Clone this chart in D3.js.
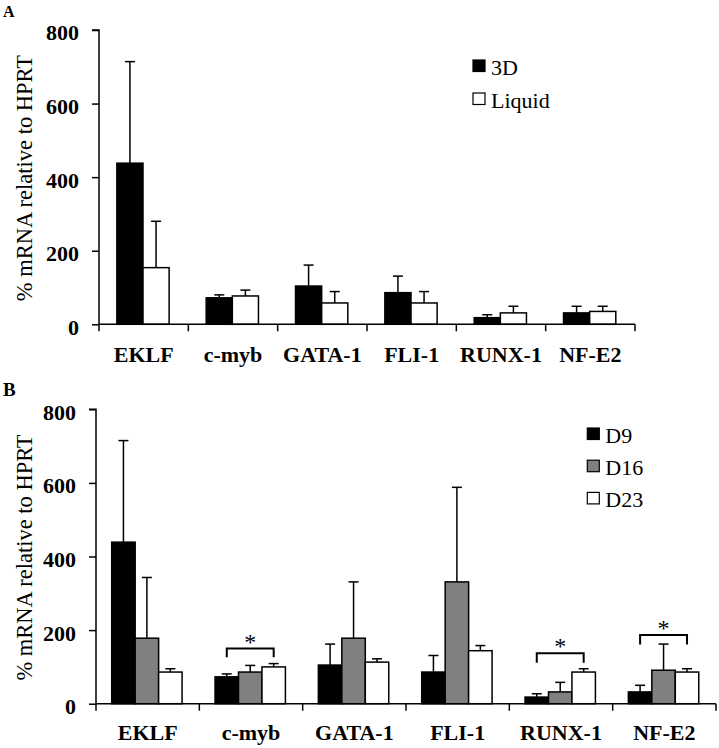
<!DOCTYPE html>
<html><head><meta charset="utf-8">
<script src="https://cdn.jsdelivr.net/npm/d3@7"></script>
<style>body{margin:0;background:#fff}svg{display:block}</style>
</head><body>
<svg id="c" width="719" height="748"></svg>
<script>
const categories = ["EKLF","c-myb","GATA-1","FLI-1","RUNX-1","NF-E2"];
const yTicks = [0,200,400,600,800];

// Panel A
const seriesA = ["3D","Liquid"];
const meanA3D    = [438, 72, 104, 86, 18, 31];
const errA3D     = [714, 80, 161, 131, 26, 49];
const meanALiq   = [154, 77, 58, 58, 31, 35];
const errALiq    = [280, 93, 89, 89, 49, 49];

// Panel B
const seriesB = ["D9","D16","D23"];
const meanBD9  = [439, 73, 105, 86, 18, 32];
const errBD9   = [715, 81, 162, 131, 27, 50];
const meanBD16 = [178, 86, 178, 331, 32, 91];
const errBD16  = [343, 104, 331, 588, 58, 162];
const meanBD23 = [86, 100, 113, 144, 86, 86];
const errBD23  = [95, 109, 122, 158, 95, 95];

// significance brackets in panel B (category, leg bottom value, bracket top value)
const sigCats   = ["c-myb","RUNX-1","NF-E2"];
const sigBottom = [126, 111, 161];
const sigTop    = [150, 137, 187];

const svg = d3.select("#c");
const serif = "Liberation Serif, Times New Roman, serif";

function panel(cfg){
  const g = svg.append("g");
  const x = d3.scaleBand().domain(categories).range([cfg.x0, cfg.x1]);
  const y = d3.scaleLinear().domain([0,800]).range([cfg.yb, cfg.yt]);
  const bw = x.bandwidth();
  const xs = d3.scaleBand().domain(cfg.series).range([bw*cfg.g0, bw*cfg.g1]);

  // bars + error bars
  cfg.series.forEach((s,si)=>{
    const means = cfg.means[si], errs = cfg.errs[si];
    categories.forEach((c,i)=>{
      const bx = x(c)+xs(s);
      const cx = bx + xs.bandwidth()/2;
      g.append("line").attr("x1",cx).attr("x2",cx).attr("y1",y(means[i])).attr("y2",y(errs[i]))
        .attr("stroke","#000").attr("stroke-width",1.5);
      g.append("line").attr("x1",cx-5).attr("x2",cx+5).attr("y1",y(errs[i])).attr("y2",y(errs[i]))
        .attr("stroke","#000").attr("stroke-width",1.5);
      g.append("rect").attr("x",bx).attr("y",y(means[i])).attr("width",xs.bandwidth())
        .attr("height",y(0)-y(means[i])).attr("fill",cfg.colors[si])
        .attr("stroke","#000").attr("stroke-width",1.5);
    });
  });

  // y axis
  const ya = g.append("g").attr("transform",`translate(${cfg.x0},0)`)
    .call(d3.axisLeft(y).tickValues(yTicks).tickSize(7).tickPadding(13).tickFormat(d3.format("d")));
  ya.select(".domain").attr("stroke-width",1.5).attr("d",`M-7,${y(800)}H0V${y(0)}`);
  ya.selectAll(".tick line").attr("stroke-width",1.5);
  ya.selectAll(".tick text").attr("font-family",serif).attr("font-weight","bold")
    .attr("font-size",22).attr("fill","#000").attr("dy","0.45em");

  // x axis
  g.append("line").attr("x1",cfg.x0).attr("x2",cfg.x1).attr("y1",y(0)).attr("y2",y(0))
    .attr("stroke","#000").attr("stroke-width",1.5);
  const bounds = categories.map(c=>x(c)).concat([cfg.x1]);
  bounds.forEach(b=>{
    g.append("line").attr("x1",b).attr("x2",b).attr("y1",y(0)).attr("y2",y(0)+7)
      .attr("stroke","#000").attr("stroke-width",1.5);
  });
  categories.forEach(c=>{
    g.append("text").attr("x",x(c)+bw/2).attr("y",cfg.labelY).attr("text-anchor","middle")
      .attr("font-family",serif).attr("font-weight","bold").attr("font-size",22).text(c);
  });

  // y title
  g.append("text").attr("transform",`translate(${cfg.titleX},${(y(0)+y(800))/2+1}) rotate(-90)`)
    .attr("text-anchor","middle").attr("font-family",serif).attr("font-size",22.5)
    .text("% mRNA relative to HPRT");

  // panel letter
  g.append("text").attr("x",3).attr("y",cfg.letterY).attr("font-family",serif)
    .attr("font-weight","bold").attr("font-size",cfg.letterSize).text(cfg.letter);

  // legend
  cfg.series.forEach((s,si)=>{
    const ly = cfg.legY + si*cfg.legStep;
    g.append("rect").attr("x",cfg.legX).attr("y",ly-15).attr("width",12).attr("height",11.5)
      .attr("fill",cfg.colors[si]).attr("stroke","#000").attr("stroke-width",1.2);
    g.append("text").attr("x",cfg.legX+18).attr("y",ly).attr("font-family",serif)
      .attr("font-size",22).text(s);
  });

  return {g,x,y,xs};
}

panel({x0:99, x1:635, yb:324.3, yt:30, g0:0.2, g1:0.785,
  series:seriesA, means:[meanA3D,meanALiq], errs:[errA3D,errALiq],
  colors:["#000","#fff"], labelY:362, titleX:32, letter:"A", letterY:17, letterSize:16,
  legX:473, legY:75, legStep:33});

const pB = panel({x0:96, x1:716, yb:703.7, yt:409.3, g0:0.152, g1:0.833,
  series:seriesB, means:[meanBD9,meanBD16,meanBD23], errs:[errBD9,errBD16,errBD23],
  colors:["#000","#808080","#fff"], labelY:740, titleX:32, letter:"B", letterY:396, letterSize:19,
  legX:587.3, legY:443, legStep:32.2});

// significance brackets
sigCats.forEach((c,i)=>{
  const xa = pB.x(c)+pB.xs("D9")+pB.xs.bandwidth()/2;
  const xb = pB.x(c)+pB.xs("D23")+pB.xs.bandwidth()/2;
  const yb = pB.y(sigBottom[i]), yt = pB.y(sigTop[i]);
  pB.g.append("path").attr("d",`M${xa},${yb}V${yt}H${xb}V${yb}`)
    .attr("fill","none").attr("stroke","#000").attr("stroke-width",2);
  pB.g.append("text").attr("x",(xa+xb)/2).attr("y",yt+1).attr("text-anchor","middle")
    .attr("font-family",serif).attr("font-size",24).attr("fill","#000").text("*");
});
</script>
</body></html>
